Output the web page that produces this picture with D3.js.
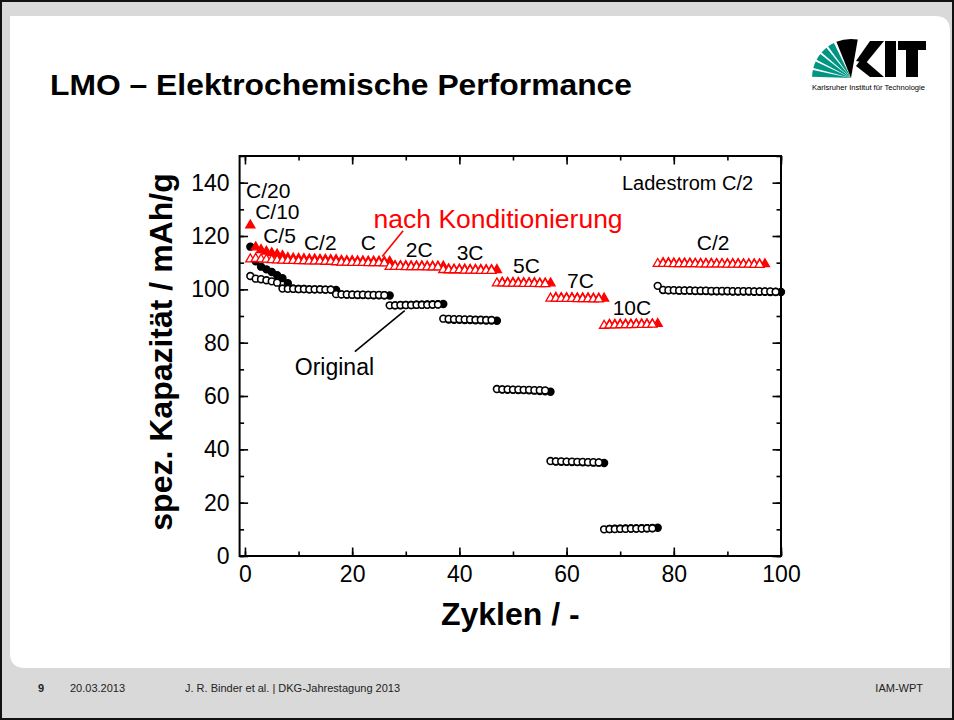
<!DOCTYPE html>
<html>
<head>
<meta charset="utf-8">
<script src="https://cdn.jsdelivr.net/npm/d3@7"></script>
<style>
  body { margin: 0; background: #fff; }
  svg { display: block; font-family: Arial, "Liberation Sans", sans-serif; }
</style>
</head>
<body>
<svg id="chart" width="954" height="720"></svg>
<script>
// Original material: open circles (discharge) and filled circles (charge, one cycle later)
const origOpenCycles = d3.range(1, 100);
const origOpen = [
  105.0, 104.0, 103.8, 103.4, 103.0, 102.5,
  100.3, 100.2, 100.2, 100.1, 100.1, 100.0, 100.0, 100.0, 99.9, 99.9,
  98.2, 98.1, 98.1, 98.0, 98.0, 98.0, 97.9, 97.9, 97.9, 97.8,
  94.0, 94.0, 94.1, 94.1, 94.1, 94.2, 94.2, 94.2, 94.3, 94.3,
  89.0, 88.9, 88.8, 88.8, 88.7, 88.7, 88.6, 88.6, 88.5, 88.5,
  62.6, 62.5, 62.5, 62.4, 62.4, 62.3, 62.3, 62.2, 62.2, 62.1,
  35.6, 35.5, 35.5, 35.4, 35.4, 35.3, 35.3, 35.2, 35.2, 35.1,
  10.0, 10.1, 10.1, 10.2, 10.2, 10.3, 10.3, 10.3, 10.4, 10.4,
  101.3, 99.8, 99.7, 99.7, 99.6, 99.6, 99.6, 99.5, 99.5, 99.5, 99.4, 99.4,
  99.4, 99.4, 99.3, 99.3, 99.3, 99.3, 99.2, 99.2, 99.2, 99.2, 99.1
];
const origFillCycles = d3.range(1, 101);
const origFill = [
  116.0, 110.5, 108.5, 107.5, 106.5, 105.3, 104.2, 102.3,
  100.2, 100.1, 100.1, 100.0, 100.0, 100.0, 99.9, 99.9, 99.8,
  98.1, 98.0, 98.0, 97.9, 97.9, 97.9, 97.8, 97.8, 97.8, 97.7,
  94.0, 94.0, 94.1, 94.1, 94.2, 94.2, 94.3, 94.3, 94.4, 94.5,
  88.7, 88.6, 88.6, 88.5, 88.5, 88.4, 88.4, 88.3, 88.3, 88.2,
  62.4, 62.3, 62.3, 62.2, 62.2, 62.1, 62.0, 61.9, 61.8, 61.6,
  35.4, 35.3, 35.3, 35.2, 35.2, 35.1, 35.1, 35.0, 35.0, 34.9,
  10.1, 10.2, 10.2, 10.3, 10.3, 10.3, 10.4, 10.4, 10.5, 10.6,
  99.7, 99.6, 99.6, 99.5, 99.5, 99.5, 99.4, 99.4, 99.4, 99.3, 99.3, 99.3,
  99.3, 99.2, 99.2, 99.2, 99.2, 99.1, 99.1, 99.1, 99.0, 99.0, 99.0
];

// After conditioning: open triangles (discharge) and filled triangles (charge)
const kondOpenCycles = d3.range(1, 97);
const kondOpen = [
  111.3, 111.5, 111.3, 111.2, 111.0, 110.9,
  110.8, 110.7, 110.7, 110.6, 110.6, 110.5, 110.5, 110.5, 110.4, 110.4,
  110.2, 110.1, 110.1, 110.0, 110.0, 110.0, 109.9, 109.9, 109.9, 109.8,
  108.5, 108.5, 108.5, 108.4, 108.4, 108.4, 108.4, 108.3, 108.3, 108.3,
  107.3, 107.2, 107.2, 107.2, 107.1, 107.1, 107.1, 107.0, 107.0, 107.0,
  102.3, 102.3, 102.2, 102.2, 102.2, 102.1, 102.1, 102.1, 102.0, 102.0,
  96.6, 96.6, 96.5, 96.5, 96.5, 96.4, 96.4, 96.4, 96.3, 96.3,
  86.4, 86.5, 86.5, 86.6, 86.6, 86.6, 86.7, 86.7, 86.7, 86.8,
  109.6, 109.6, 109.6, 109.5, 109.5, 109.5, 109.5, 109.5, 109.4, 109.4,
  109.4, 109.4, 109.4, 109.3, 109.3, 109.3, 109.3, 109.3, 109.2, 109.2
];
const kondFillCycles = d3.range(1, 98);
const kondFill = [
  124.0, 115.8, 114.8, 114.2, 113.6, 113.1, 112.6,
  111.8, 111.6, 111.5, 111.4, 111.3, 111.3, 111.2, 111.2, 111.1, 111.1,
  110.8, 110.7, 110.7, 110.6, 110.6, 110.5, 110.5, 110.5, 110.4, 110.4,
  108.8, 108.8, 108.8, 108.7, 108.7, 108.7, 108.6, 108.6, 108.6, 108.6,
  107.6, 107.5, 107.5, 107.5, 107.4, 107.4, 107.4, 107.3, 107.3, 107.3,
  102.6, 102.5, 102.5, 102.5, 102.4, 102.4, 102.4, 102.3, 102.3, 102.3,
  96.9, 96.8, 96.8, 96.8, 96.7, 96.7, 96.7, 96.6, 96.6, 96.6,
  86.8, 86.8, 86.9, 86.9, 86.9, 87.0, 87.0, 87.0, 87.0, 87.1,
  109.9, 109.9, 109.8, 109.8, 109.8, 109.8, 109.7, 109.7, 109.7, 109.7,
  109.6, 109.6, 109.6, 109.6, 109.6, 109.5, 109.5, 109.5, 109.5, 109.5
];

const xTicks = [0, 20, 40, 60, 80, 100];
const yTicks = [0, 20, 40, 60, 80, 100, 120, 140];

const svg = d3.select('#chart');

// slide background
svg.append('rect').attr('x', 0).attr('y', 0).attr('width', 954).attr('height', 720).attr('fill', '#d9d9d9');
svg.append('path')
  .attr('d', 'M10,16 H935 Q950,16 950,31 V668 H25 Q10,668 10,653 Z')
  .attr('fill', '#fff');
svg.append('rect').attr('x', 1).attr('y', 1).attr('width', 952).attr('height', 718)
  .attr('fill', 'none').attr('stroke', '#111').attr('stroke-width', 2);

svg.append('text')
  .attr('x', 50).attr('y', 95)
  .attr('font-size', 30).attr('font-weight', 'bold')
  .attr('textLength', 582).attr('lengthAdjust', 'spacingAndGlyphs')
  .text('LMO – Elektrochemische Performance');

// KIT logo: green fan, letters as shapes
const logo = svg.append('g').attr('transform', 'translate(851,78)');
const wedge = d3.arc().innerRadius(0).outerRadius(39);
[[-88, -78], [-75, -65], [-62, -52], [-49, -39], [-36, -26]].forEach(a => {
  logo.append('path')
    .attr('d', wedge({ startAngle: a[0] * Math.PI / 180, endAngle: a[1] * Math.PI / 180 }))
    .attr('fill', '#009682');
});
logo.append('path')
  .attr('d', wedge({ startAngle: -22 * Math.PI / 180, endAngle: 10 * Math.PI / 180 }))
  .attr('fill', '#000');
const letters = svg.append('g').attr('fill', '#000');
letters.append('path').attr('d', 'M856,61 L870,41 L884,41 L866,63 Z');
letters.append('path').attr('d', 'M862,58 L884,77 L870,77 L856,66 Z');
letters.append('rect').attr('x', 885).attr('y', 41).attr('width', 11).attr('height', 36);
letters.append('rect').attr('x', 898).attr('y', 41).attr('width', 28).attr('height', 9);
letters.append('rect').attr('x', 906).attr('y', 41).attr('width', 12).attr('height', 36);
svg.append('text')
  .attr('x', 812).attr('y', 90)
  .attr('font-size', 7)
  .attr('textLength', 113).attr('lengthAdjust', 'spacingAndGlyphs')
  .text('Karlsruher Institut für Technologie');

// footer
const footer = svg.append('g').attr('font-size', 11).attr('fill', '#222');
footer.append('text').attr('x', 38).attr('y', 692).attr('font-weight', 'bold').text('9');
footer.append('text').attr('x', 70).attr('y', 692).text('20.03.2013');
footer.append('text').attr('x', 185).attr('y', 692).text('J. R. Binder et al. | DKG-Jahrestagung 2013');
footer.append('text').attr('x', 923).attr('y', 692).attr('text-anchor', 'end').text('IAM-WPT');

// chart
const x = d3.scaleLinear().domain([-1, 100]).range([239.6, 781]);
const y = d3.scaleLinear().domain([0, 150]).range([556, 156]);
const [x0, x1] = x.range();
const [y0, y1] = y.range();

const g = svg.append('g');

function tickAxis(axis, transform, ticks, size, labels) {
  const a = g.append('g')
    .attr('transform', transform)
    .call(axis.tickValues(ticks).tickSize(-size).tickPadding(labels ? 10 : 0)
      .tickFormat(labels ? d3.format('d') : ''));
  a.select('.domain').remove();
  a.selectAll('line').attr('stroke', '#000').attr('stroke-width', 1.6);
  a.selectAll('text').attr('font-size', 23).attr('fill', '#000')
    .attr('font-family', 'Arial, "Liberation Sans", sans-serif');
  return a;
}
const xMinor = d3.range(0, 101, 10);
const yMinor = d3.range(0, 151, 10);
tickAxis(d3.axisBottom(x), `translate(0,${y0})`, xMinor, 4.5, false);
tickAxis(d3.axisTop(x), `translate(0,${y1})`, xMinor, 4.5, false);
tickAxis(d3.axisLeft(y), `translate(${x0},0)`, yMinor, 4.5, false);
tickAxis(d3.axisRight(y), `translate(${x1},0)`, yMinor, 4.5, false);
tickAxis(d3.axisBottom(x), `translate(0,${y0})`, xTicks, 8.5, true);
tickAxis(d3.axisTop(x), `translate(0,${y1})`, xTicks, 8.5, false);
tickAxis(d3.axisLeft(y), `translate(${x0},0)`, yTicks, 8.5, true);
tickAxis(d3.axisRight(y), `translate(${x1},0)`, yTicks, 8.5, false);

g.append('rect')
  .attr('x', x0).attr('y', y1).attr('width', x1 - x0).attr('height', y0 - y1)
  .attr('fill', 'none').attr('stroke', '#000').attr('stroke-width', 2);

// axis titles
g.append('text')
  .attr('x', (x0 + x1) / 2).attr('y', 625)
  .attr('text-anchor', 'middle')
  .attr('font-size', 32).attr('font-weight', 'bold')
  .text('Zyklen / -');
g.append('text')
  .attr('transform', `translate(172,${(y0 + y1) / 2 - 4}) rotate(-90)`)
  .attr('text-anchor', 'middle')
  .attr('font-size', 32).attr('font-weight', 'bold')
  .text('spez. Kapazität / mAh/g');

// markers
const circles = (cycles, vals, fill) => {
  g.append('g').selectAll('circle')
    .data(cycles.map((c, i) => [c, vals[i]]))
    .join('circle')
    .attr('cx', d => x(d[0])).attr('cy', d => y(d[1]))
    .attr('r', 3.4)
    .attr('fill', fill).attr('stroke', '#000').attr('stroke-width', 1.6);
};
const triangles = (cycles, vals, fill) => {
  g.append('g').selectAll('path')
    .data(cycles.map((c, i) => [c, vals[i]]))
    .join('path')
    .attr('d', d3.symbol().type(d3.symbolTriangle).size(36))
    .attr('transform', d => `translate(${x(d[0])},${y(d[1])})`)
    .attr('fill', fill).attr('stroke', '#f00').attr('stroke-width', 1.3);
};
circles(origFillCycles, origFill, '#000');
circles(origOpenCycles, origOpen, '#fff');
triangles(kondFillCycles, kondFill, '#f00');
triangles(kondOpenCycles, kondOpen, '#fff');

// annotations (data coordinates)
const notes = [
  ['C/20', 0.2, 134.2], ['C/10', 1.9, 126.2], ['C/5', 3.4, 117.5], ['C/2', 11, 114.7],
  ['C', 21.6, 114.7], ['2C', 30, 112.1], ['3C', 39.5, 111], ['5C', 50, 106.1],
  ['7C', 60.1, 100.5], ['10C', 68.6, 90.4], ['C/2', 84.3, 114.7]
];
g.append('g').selectAll('text')
  .data(notes)
  .join('text')
  .attr('x', d => x(d[1])).attr('y', d => y(d[2]))
  .attr('font-size', 21)
  .text(d => d[0]);

g.append('text')
  .attr('x', x(94.8)).attr('y', y(137.2))
  .attr('text-anchor', 'end').attr('font-size', 20)
  .text('Ladestrom C/2');

g.append('text')
  .attr('x', x(24.0)).attr('y', y(123))
  .attr('font-size', 26.5).attr('fill', '#f00')
  .text('nach Konditionierung');
g.append('line')
  .attr('x1', x(29.5)).attr('y1', y(122.0)).attr('x2', x(25.6)).attr('y2', y(112.3))
  .attr('stroke', '#f00').attr('stroke-width', 1.6);

g.append('text')
  .attr('x', x(9.3)).attr('y', y(67.9))
  .attr('font-size', 23)
  .text('Original');
g.append('line')
  .attr('x1', x(20.5)).attr('y1', y(76.6)).attr('x2', x(29.8)).attr('y2', y(92))
  .attr('stroke', '#000').attr('stroke-width', 1.6);
</script>
</body>
</html>
